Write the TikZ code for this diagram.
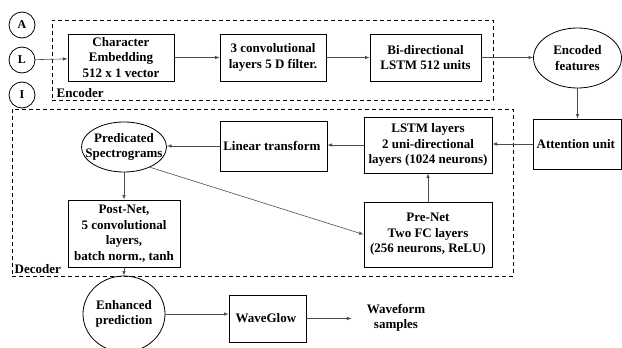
\documentclass[tikz,border=0pt]{standalone}
\usepackage{fontspec}
\setmainfont{Liberation Serif}
\usetikzlibrary{shapes, arrows, calc, fit}
\newcommand{\tight}[1]{\makebox[0pt]{#1}}
\tikzstyle{block}    = [rectangle,
                        minimum width=106pt,
                        minimum height=47pt,
                        inner sep=1pt,
                        text centered,
                        align=center,
                        draw=black,
                        line width=0.8pt,
                        font=\bfseries\fontsize{13}{15.5}\selectfont]
\tikzstyle{blob}     = [ellipse,
                        minimum width=84pt,
                        minimum height=50pt,
                        inner sep=0pt,
                        text centered,
                        align=center,
                        draw=black,
                        line width=0.8pt,
                        font=\bfseries\fontsize{13}{15.5}\selectfont]
\tikzstyle{letter}   = [circle,
                        minimum size=26pt,
                        inner sep=0pt,
                        draw=black,
                        line width=0.8pt,
                        font=\bfseries\fontsize{12}{14}\selectfont]
\tikzstyle{group}    = [rectangle,
                        inner sep=0pt,
                        draw=black,
                        dash pattern=on 4pt off 3pt,
                        line width=1pt]
\tikzstyle{tag}      = [inner sep=3pt,
                        align=center,
                        font=\bfseries\fontsize{13}{15.5}\selectfont]
\tikzstyle{arrow}    = [draw=black!70, line width=0.6pt, ->, >=latex]

\begin{document}
\begin{tikzpicture}[x=1pt, y=1pt]
        \useasboundingbox (0,0) rectangle (622,-348);

        \node [letter] (L) at (22,-60) {L};
        \node [letter] (A) at ([shift={(0,35)}] L) {A};
        \node [letter] (I) at ([shift={(0,-35)}] L) {I};

        \node [block] (charEmb)   at ([shift={(99,2.5)}] L) {
            Character \\ Embedding \\ 512 x 1 vector
            };
        \node [block] (conv)      at ([shift={(152,0)}] charEmb) {
            3 convolutional \\ layers 5 D filter.
            };
        \node [block, minimum width=111pt] (biLSTM) at ([shift={(152.5,0)}] conv) {
            Bi-directional \\ LSTM 512 units
            };
        \node [blob, minimum width=88pt, minimum height=60pt] (encoded) at ([shift={(152,-0.5)}] biLSTM) {
            \tight{Encoded} \\ \tight{features}
            };

        \node [block, minimum width=88pt, minimum height=50pt] (attention) at ([shift={(0,-86)}] encoded) {
            Attention unit
            };
        \node [block, minimum width=128pt, minimum height=56pt] (lstm) at (428,-145) {
            LSTM layers \\ 2 uni-directional \\ layers (1024 neurons)
            };
        \node [block, minimum width=107pt, minimum height=50pt] (linear) at ([shift={(-154.5,-1)}] lstm) {
            Linear transform
            };
        \node [blob, minimum width=85pt] (predicated) at (124,-147) {
            \tight{Predicated} \\ \tight{Spectrograms}
            };
        \node [block, minimum width=112pt, minimum height=67pt] (postNet) at ([shift={(0,-86.5)}] predicated) {
            Post-Net, \\ 5 convolutional \\ layers, \\ batch norm., tanh
            };
        \node [block, minimum width=128pt, minimum height=65pt] (preNet) at ([shift={(0,-89.5)}] lstm) {
            Pre-Net \\ Two FC layers \\ (256 neurons, ReLU)
            };

        \node [blob, minimum width=82pt, minimum height=76pt] (enhanced) at (124,-314) {
            \tight{Enhanced} \\ \tight{prediction}
            };
        \node [block, minimum width=77pt, minimum height=47pt] (waveGlow) at (267.5,-318.5) {
            WaveGlow
            };
        \node [tag] (waveform) at (396,-318) {Waveform \\ samples};

        % dashed groups
        \node [group, fit={(52,-20) (493,-100)}] (encoder) {};
        \node [group, fit={(12,-109) (513,-276)}] (decoder) {};
        \node [tag, anchor=south west] (encLabel) at ([shift={(2,0)}] encoder.south west) {Encoder};
        \node [tag, anchor=south west] (decLabel) at (decoder.south west) {Decoder};

        \draw [arrow] (L) -- (charEmb);
        \draw [arrow] (charEmb) -- (conv);
        \draw [arrow] (conv) -- (biLSTM);
        \draw [arrow] (biLSTM) -- (biLSTM -| encoded.west);
        \draw [arrow] (encoded) -- (attention);

        \draw [arrow] (attention.west) -- (attention.west -| lstm.east);
        \draw [arrow] (lstm.west) -- (lstm.west -| linear.east);
        \draw [arrow] (linear.west) -- (linear.west -| predicated.east);
        \draw [arrow] (preNet) -- (lstm);
        \draw [arrow] (predicated.-38) -- (preNet.west);
        \draw [arrow] (predicated) -- (postNet);
        \draw [arrow] (postNet) -- (enhanced);

        \draw [arrow] (enhanced.east) -- (enhanced.east -| waveGlow.west);
        \draw [arrow, shorten >=12pt] (waveGlow.east) -- (waveGlow.east -| waveform.west);
    \end{tikzpicture}
\end{document}
